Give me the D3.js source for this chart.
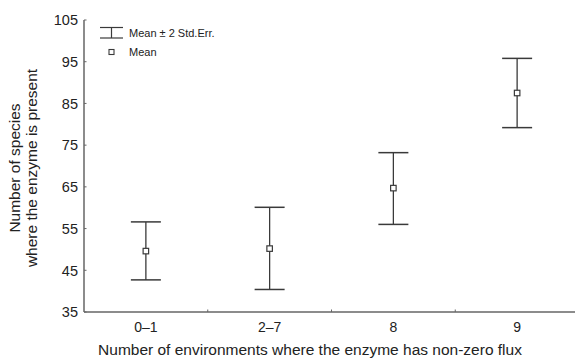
<!DOCTYPE html>
<html>
<head>
<meta charset="utf-8">
<script src="https://cdn.jsdelivr.net/npm/d3@7"></script>
<style>
  html, body { margin: 0; padding: 0; background: #fff; }
  svg { display: block; font-family: "Liberation Sans", Arial, sans-serif; }
</style>
</head>
<body>
<svg id="chart" width="575" height="358"></svg>
<script>
// values
const categories = ["0–1", "2–7", "8", "9"];
const means = [49.6, 50.2, 64.7, 87.5];
const upper = [56.6, 60.1, 73.2, 95.8];
const lower = [42.7, 40.4, 56.0, 79.2];
const yTicks = [35, 45, 55, 65, 75, 85, 95, 105];

const svg = d3.select("#chart");
const plotLeft = 84, plotRight = 579, plotTop = 20, plotBottom = 312;
const lineColor = "#3a3a3a";
const axisColor = "#666";

const x = d3.scaleBand().domain(categories).range([plotLeft, plotRight]).padding(0);
const y = d3.scaleLinear().domain([35, 105]).range([plotBottom, plotTop]);

const rows = categories.map((c, i) => ({ cat: c, mean: means[i], hi: upper[i], lo: lower[i] }));

// axes lines
svg.append("line")
  .attr("x1", plotLeft).attr("x2", plotLeft)
  .attr("y1", y(105)).attr("y2", plotBottom)
  .attr("stroke", axisColor).attr("stroke-width", 1.5);
svg.append("line")
  .attr("x1", plotLeft).attr("x2", 575)
  .attr("y1", plotBottom).attr("y2", plotBottom)
  .attr("stroke", axisColor).attr("stroke-width", 1.5);

// y ticks (small inward marks) + labels
const yg = svg.append("g").attr("class", "y-ticks");
yg.selectAll("line").data(yTicks).enter().append("line")
  .attr("x1", plotLeft).attr("x2", plotLeft + 2.5)
  .attr("y1", d => y(d)).attr("y2", d => y(d))
  .attr("stroke", axisColor).attr("stroke-width", 1);
yg.selectAll("text").data(yTicks).enter().append("text")
  .attr("x", plotLeft - 6).attr("y", d => y(d))
  .attr("dy", "0.36em")
  .attr("text-anchor", "end")
  .attr("font-size", 14.5)
  .attr("fill", "#222")
  .text(d => d);

// x ticks at band boundaries
const xBounds = categories.slice(1).map(c => x(c));
svg.append("g").selectAll("line").data(xBounds).enter().append("line")
  .attr("x1", d => d).attr("x2", d => d)
  .attr("y1", plotBottom).attr("y2", plotBottom - 2.5)
  .attr("stroke", axisColor).attr("stroke-width", 1);
svg.append("g").selectAll("text").data(categories).enter().append("text")
  .attr("x", d => x(d) + x.bandwidth() / 2)
  .attr("y", 332)
  .attr("text-anchor", "middle")
  .attr("font-size", 14)
  .attr("fill", "#222")
  .text(d => d);

// axis titles
svg.append("text")
  .attr("x", 310).attr("y", 355)
  .attr("text-anchor", "middle")
  .attr("font-size", 15.5)
  .attr("fill", "#222")
  .text("Number of environments where the enzyme has non-zero flux");

const yTitle = svg.append("g").attr("transform", "translate(0,168) rotate(-90)");
yTitle.append("text")
  .attr("x", 0).attr("y", 20)
  .attr("text-anchor", "middle")
  .attr("font-size", 15.5)
  .attr("fill", "#222")
  .text("Number of species");
yTitle.append("text")
  .attr("x", 0).attr("y", 37)
  .attr("text-anchor", "middle")
  .attr("font-size", 15.5)
  .attr("fill", "#222")
  .text("where the enzyme is present");

// error bars
const capW = 15;
const bars = svg.append("g").attr("class", "bars")
  .selectAll("g").data(rows).enter().append("g")
  .attr("transform", d => `translate(${x(d.cat) + x.bandwidth() / 2},0)`);
bars.append("line")
  .attr("x1", 0).attr("x2", 0)
  .attr("y1", d => y(d.hi)).attr("y2", d => y(d.lo))
  .attr("stroke", lineColor).attr("stroke-width", 1.3);
bars.append("line")
  .attr("x1", -capW).attr("x2", capW)
  .attr("y1", d => y(d.hi)).attr("y2", d => y(d.hi))
  .attr("stroke", lineColor).attr("stroke-width", 1.5);
bars.append("line")
  .attr("x1", -capW).attr("x2", capW)
  .attr("y1", d => y(d.lo)).attr("y2", d => y(d.lo))
  .attr("stroke", lineColor).attr("stroke-width", 1.5);
bars.append("rect")
  .attr("x", -2.75).attr("y", d => y(d.mean) - 2.75)
  .attr("width", 5.5).attr("height", 5.5)
  .attr("fill", "#fff")
  .attr("stroke", lineColor).attr("stroke-width", 1.2);

// legend
const lg = svg.append("g").attr("class", "legend");
lg.append("line").attr("x1", 100).attr("x2", 123).attr("y1", 27.5).attr("y2", 27.5)
  .attr("stroke", lineColor).attr("stroke-width", 1.2);
lg.append("line").attr("x1", 100).attr("x2", 123).attr("y1", 38).attr("y2", 38)
  .attr("stroke", lineColor).attr("stroke-width", 1.2);
lg.append("line").attr("x1", 111.5).attr("x2", 111.5).attr("y1", 27.5).attr("y2", 38)
  .attr("stroke", lineColor).attr("stroke-width", 1.2);
lg.append("text").attr("x", 129).attr("y", 37)
  .attr("font-size", 11).attr("fill", "#222")
  .text("Mean ± 2 Std.Err.");
lg.append("rect").attr("x", 109).attr("y", 49.5).attr("width", 5).attr("height", 5)
  .attr("fill", "#fff").attr("stroke", lineColor).attr("stroke-width", 1.1);
lg.append("text").attr("x", 129).attr("y", 56)
  .attr("font-size", 11).attr("fill", "#222")
  .text("Mean");
</script>
</body>
</html>
